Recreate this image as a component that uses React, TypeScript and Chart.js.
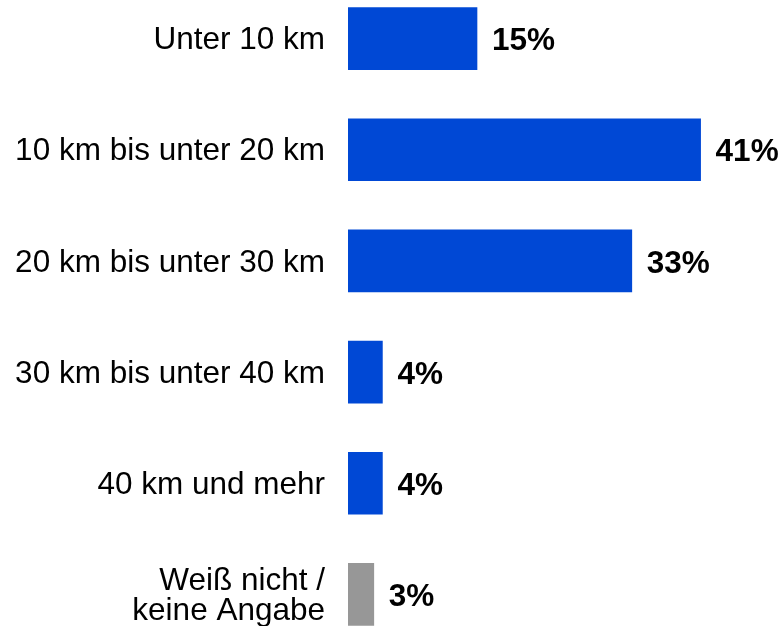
import React, { useEffect, useRef } from "react";
import { Chart, registerables } from "chart.js";

Chart.register(...registerables);

const categories: (string | string[])[] = [
  "Unter 10 km",
  "10 km bis unter 20 km",
  "20 km bis unter 30 km",
  "30 km bis unter 40 km",
  "40 km und mehr",
  ["Weiß nicht /", "keine Angabe"],
];
const values = [15, 41, 33, 4, 4, 3];
const barColors = ["#0048D5", "#0048D5", "#0048D5", "#0048D5", "#0048D5", "#979797"];
const valueLabels = values.map((v) => `${v}%`);

const FONT = "'Liberation Sans', Arial, Helvetica, sans-serif";

const valueLabelPlugin = {
  id: "valueLabels",
  afterDatasetsDraw(chart: any) {
    const { ctx } = chart;
    const meta = chart.getDatasetMeta(0);
    ctx.save();
    ctx.font = `bold 31.5px ${FONT}`;
    ctx.fillStyle = "#000";
    ctx.textAlign = "left";
    ctx.textBaseline = "middle";
    meta.data.forEach((bar: any, i: number) => {
      ctx.fillText(valueLabels[i], bar.x + 15, bar.y + 3);
    });
    ctx.restore();
  },
};

export default function App() {
  const ref = useRef<HTMLCanvasElement | null>(null);
  useEffect(() => {
    if (!ref.current) return;
    const chart = new Chart(ref.current, {
      type: "bar",
      data: {
        labels: categories,
        datasets: [
          {
            data: values,
            backgroundColor: barColors,
            barThickness: 62,
            borderWidth: 0,
          },
        ],
      },
      options: {
        indexAxis: "y",
        animation: false,
        responsive: false,
        maintainAspectRatio: false,
        layout: { padding: { left: 0, right: 5, top: 0, bottom: 0 } },
        plugins: { legend: { display: false }, tooltip: { enabled: false } },
        scales: {
          x: {
            min: 0,
            max: 50,
            display: false,
          },
          y: {
            grid: { display: false, drawTicks: false },
            border: { display: false },
            ticks: {
              padding: 23,
              labelOffset: 2,
              color: "#000",
              font: { family: FONT, size: 31.5, lineHeight: 0.95 },
            },
            afterFit(scale: any) {
              scale.width = 348;
              scale.paddingTop = 0;
              scale.paddingBottom = 0;
            },
          },
        },
      },
      plugins: [valueLabelPlugin],
    });
    return () => chart.destroy();
  }, []);
  return (
    <div style={{ position: "absolute", left: 0, top: -17, width: 783, height: 667 }}>
      <canvas ref={ref} width={783} height={667} style={{ width: 783, height: 667 }} />
    </div>
  );
}
